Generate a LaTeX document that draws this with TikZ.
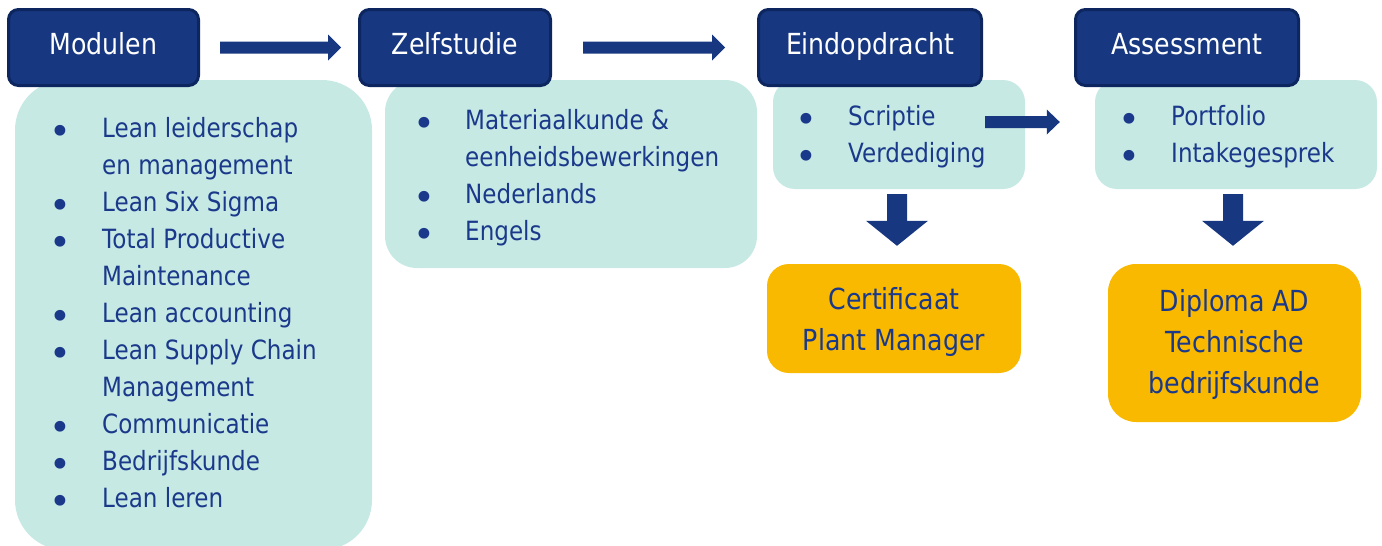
\documentclass[tikz,border=0pt]{standalone}
\usepackage{fontspec}
\setmainfont{DejaVu Sans}[FakeStretch=0.87]
\newfontfamily\bulfont{DejaVu Sans}
\usetikzlibrary{calc}
\definecolor{navy}{RGB}{23,55,128}
\definecolor{navyborder}{RGB}{13,38,95}
\definecolor{navytext}{RGB}{27,57,138}
\definecolor{teal}{RGB}{198,233,228}
\definecolor{gold}{RGB}{249,185,0}
\tikzset{
  header/.style={draw=navyborder, line width=3pt, fill=navy, rounded corners=10pt,
    text=white, font=\fontsize{29}{35}\selectfont, text height=22pt, text depth=8pt,
    minimum height=76pt, inner sep=0pt},
  panel/.style={fill=teal, inner sep=0pt},
  result/.style={fill=gold, inner sep=0pt, text=navytext, align=center,
    font=\fontsize{29}{41}\selectfont},
  listtext/.style={anchor=base west, inner sep=0pt, text=navytext,
    font=\fontsize{26.5}{37}\selectfont},
  arr/.style={fill=navy},
}
\newcommand{\bul}{\hspace*{7pt}\makebox[0pt]{\raisebox{-7pt}{\bulfont\fontsize{37}{37}\selectfont\textbullet}}}
\begin{document}
\begin{tikzpicture}[x=1pt,y=-1pt]
\useasboundingbox (0,0) rectangle (1382,546);
% panels
\node[panel, rounded corners=50pt, minimum width=357pt, minimum height=470pt] (modlist) at (193.5,315) {};
\node[panel, rounded corners=32pt, minimum width=372pt, minimum height=188pt] (zelflist) at (571,174) {};
\node[panel, rounded corners=22pt, minimum width=252pt, minimum height=109pt] (eindlist) at (899,134.5) {};
\node[panel, rounded corners=22pt, minimum width=282pt, minimum height=109pt] (asslist) at (1236,134.5) {};
% results
\node[result, rounded corners=22pt, minimum width=254pt, minimum height=109pt] (cert) at (894,318.5) {\rule{0pt}{30pt}Certificaat\\Plant Manager};
\node[result, rounded corners=28pt, minimum width=253pt, minimum height=158pt] (dipl) at (1234.5,343) {\rule{0pt}{26pt}Diploma AD\\Technische\\bedrijfskunde};
% headers
\node[header, minimum width=190pt] (mod) at (103.5,47.5) {Modulen};
\node[header, minimum width=191pt] (zelf) at (455,47.5) {Zelfstudie};
\node[header, minimum width=223pt] (eind) at (870,47.5) {Eindopdracht};
\node[header, minimum width=223pt] (ass) at (1187,47.5) {Assessment};
% lists
\node[listtext] (modtext) at (53,137) {\begin{tabular}[t]{@{}p{49pt}@{}l@{}}
\bul & Lean leiderschap\\
 & en management\\
\bul & Lean Six Sigma\\
\bul & Total Productive\\
 & Maintenance\\
\bul & Lean accounting\\
\bul & Lean Supply Chain\\
 & Management\\
\bul & Communicatie\\
\bul & Bedrijfskunde\\
\bul & Lean leren
\end{tabular}};
\node[listtext] (zelftext) at (417,129.5) {\begin{tabular}[t]{@{}p{48pt}@{}l@{}}
\bul & Materiaalkunde \&\\
 & eenheidsbewerkingen\\
\bul & Nederlands\\
\bul & Engels
\end{tabular}};
\node[listtext] (eindtext) at (799,125.5) {\begin{tabular}[t]{@{}p{49pt}@{}l@{}}
\bul & Scriptie\\
\bul & Verdediging
\end{tabular}};
\node[listtext] (asstext) at (1122,125.5) {\begin{tabular}[t]{@{}p{49pt}@{}l@{}}
\bul & Portfolio\\
\bul & Intakegesprek
\end{tabular}};
% arrow coordinates
\coordinate (a1s) at ([xshift=20pt]mod.east);
\coordinate (a1e) at ([xshift=-17pt]zelf.west);
\coordinate (a2s) at ([xshift=31pt]zelf.east);
\coordinate (a2e) at ([xshift=-32pt]eind.west);
\coordinate (a3s) at ([xshift=-40pt,yshift=12.5pt]eindlist.east);
\coordinate (a3e) at ([xshift=-35pt,yshift=12.5pt]asslist.west);
\coordinate (d1s) at ([xshift=-2pt,yshift=-5pt]eindlist.south);
\coordinate (d1e) at ([xshift=3pt,yshift=18pt]cert.north);
\coordinate (d2s) at ([xshift=-3pt,yshift=-5pt]asslist.south);
\coordinate (d2e) at ([xshift=-1.5pt,yshift=18pt]dipl.north);
% right arrows
\fill[arr] ([yshift=6pt]a1s) -- ([xshift=-13pt,yshift=6pt]a1e) -- ([xshift=-13pt,yshift=13pt]a1e) -- (a1e)
  -- ([xshift=-13pt,yshift=-13pt]a1e) -- ([xshift=-13pt,yshift=-6pt]a1e) -- ([yshift=-6pt]a1s) -- cycle;
\fill[arr] ([yshift=6pt]a2s) -- ([xshift=-13pt,yshift=6pt]a2e) -- ([xshift=-13pt,yshift=13pt]a2e) -- (a2e)
  -- ([xshift=-13pt,yshift=-13pt]a2e) -- ([xshift=-13pt,yshift=-6pt]a2e) -- ([yshift=-6pt]a2s) -- cycle;
\fill[arr] ([yshift=6pt]a3s) -- ([xshift=-13pt,yshift=6pt]a3e) -- ([xshift=-13pt,yshift=12.5pt]a3e) -- (a3e)
  -- ([xshift=-13pt,yshift=-12.5pt]a3e) -- ([xshift=-13pt,yshift=-6pt]a3e) -- ([yshift=-6pt]a3s) -- cycle;
% down arrows
\fill[arr] ([xshift=-10pt]d1s) -- ([xshift=-10pt,yshift=25pt]d1e) -- ([xshift=-31pt,yshift=25pt]d1e) -- (d1e)
  -- ([xshift=31pt,yshift=25pt]d1e) -- ([xshift=10pt,yshift=25pt]d1e) -- ([xshift=10pt]d1s) -- cycle;
\fill[arr] ([xshift=-10pt]d2s) -- ([xshift=-10pt,yshift=25pt]d2e) -- ([xshift=-31pt,yshift=25pt]d2e) -- (d2e)
  -- ([xshift=31pt,yshift=25pt]d2e) -- ([xshift=10pt,yshift=25pt]d2e) -- ([xshift=10pt]d2s) -- cycle;
\end{tikzpicture}
\end{document}
